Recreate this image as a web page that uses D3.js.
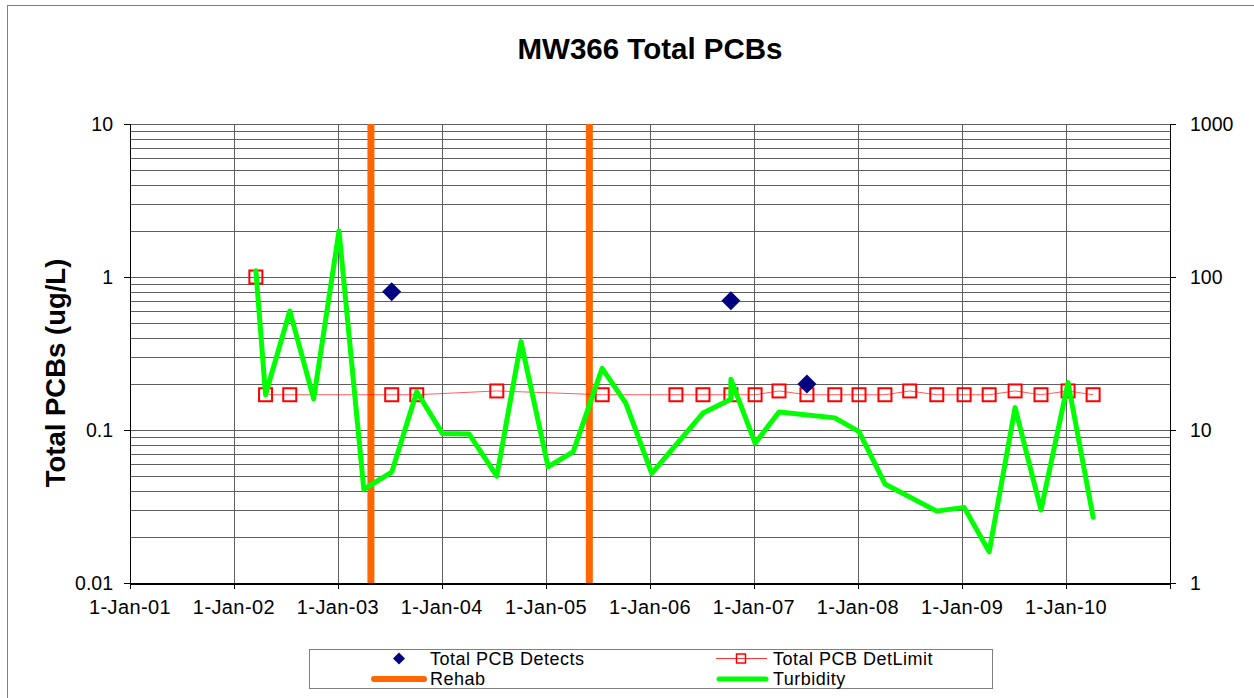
<!DOCTYPE html>
<html>
<head>
<meta charset="utf-8">
<script src="https://cdn.jsdelivr.net/npm/d3@7/dist/d3.min.js"></script>
<style>
  html, body { margin: 0; padding: 0; background: #fff; }
  svg { display: block; font-family: "Liberation Sans", Arial, sans-serif; }
</style>
</head>
<body>
<svg id="chart" width="1254" height="698"></svg>
<script>
// ---- data ----
const detectDates = ["2003-07-09", "2006-10-12", "2007-07-06"];
const detectValues = [0.8, 0.7, 0.2];

const detLimitDates = [
  "2002-03-19", "2002-04-22", "2002-07-16", "2003-07-09", "2003-10-05", "2004-07-12",
  "2005-07-17", "2006-04-02", "2006-07-06", "2006-10-12", "2007-01-05", "2007-03-30",
  "2007-07-06", "2007-10-12", "2008-01-05", "2008-04-05", "2008-07-01", "2008-10-04",
  "2009-01-08", "2009-04-06", "2009-07-06", "2009-10-05", "2010-01-08", "2010-04-06"
];
const detLimitValues = [
  1.0, 0.17, 0.17, 0.17, 0.17, 0.18,
  0.17, 0.17, 0.17, 0.17, 0.17, 0.18,
  0.17, 0.17, 0.17, 0.17, 0.18, 0.17,
  0.17, 0.17, 0.18, 0.17, 0.18, 0.17
];

const rehabDates = ["2003-04-27", "2005-06-02"];

const turbidityDates = [
  "2002-03-19", "2002-04-22", "2002-07-16", "2002-10-08", "2003-01-05", "2003-04-02",
  "2003-07-09", "2003-10-05", "2004-01-03", "2004-04-06", "2004-07-12", "2004-10-05",
  "2005-01-08", "2005-04-06", "2005-07-17", "2005-10-08", "2006-01-07", "2006-07-06",
  "2006-10-12", "2006-10-12", "2007-01-05", "2007-03-30", "2007-10-12", "2008-01-05",
  "2008-04-05", "2008-10-04", "2009-01-08", "2009-04-06", "2009-07-06", "2009-10-05",
  "2010-01-08", "2010-04-06"
];
const turbidityValues = [
  110, 17, 60, 16, 200, 4.1,
  5.3, 17.8, 9.5, 9.4, 5.0, 37.8,
  5.75, 7.2, 25.3, 15, 5.2, 12.9,
  15.9, 21.5, 8.2, 13.1, 12.0, 9.75,
  4.44, 2.95, 3.12, 1.6, 14, 3.0,
  20.4, 2.69
];

const xTickYears = [2001, 2002, 2003, 2004, 2005, 2006, 2007, 2008, 2009, 2010, 2011];
const xTickLabels = ["1-Jan-01", "1-Jan-02", "1-Jan-03", "1-Jan-04", "1-Jan-05",
                     "1-Jan-06", "1-Jan-07", "1-Jan-08", "1-Jan-09", "1-Jan-10", ""];
const leftTicks = [0.01, 0.1, 1, 10];
const leftTickLabels = ["0.01", "0.1", "1", "10"];
const rightTicks = [1, 10, 100, 1000];
const rightTickLabels = ["1", "10", "100", "1000"];

const chartTitle = "MW366 Total PCBs";
const yTitle = "Total PCBs (ug/L)";
const legendItems = ["Total PCB Detects", "Total PCB DetLimit", "Rehab", "Turbidity"];

// ---- layout ----
const plot = { left: 130, right: 1170, top: 124, bottom: 583 };
const parse = d3.timeParse("%Y-%m-%d");
const svg = d3.select("#chart");

const x = d3.scaleTime()
  .domain([new Date(2001, 0, 1), new Date(2011, 0, 1)])
  .range([plot.left, plot.right]);
const yL = d3.scaleLog().domain([0.01, 10]).range([plot.bottom, plot.top]);
const yR = d3.scaleLog().domain([1, 1000]).range([plot.bottom, plot.top]);

// outer chart frame
svg.append("rect")
  .attr("x", 7.5).attr("y", 5.5).attr("width", 1260).attr("height", 720)
  .attr("fill", "none").attr("stroke", "#808080").attr("stroke-width", 1);

// plot background
svg.append("rect")
  .attr("x", plot.left).attr("y", plot.top)
  .attr("width", plot.right - plot.left).attr("height", plot.bottom - plot.top)
  .attr("fill", "#fff");

// horizontal gridlines (major + minor log)
const gridVals = [];
[0.01, 0.1, 1].forEach(d => { for (let m = 1; m <= 9; m++) gridVals.push(d * m); });
gridVals.push(10);
const grid = svg.append("g").attr("shape-rendering", "crispEdges");
grid.selectAll("line.h").data(gridVals).join("line")
  .attr("class", "h")
  .attr("x1", plot.left).attr("x2", plot.right)
  .attr("y1", d => Math.round(yL(d)) + 0.5).attr("y2", d => Math.round(yL(d)) + 0.5)
  .attr("stroke", "#5e5e5e").attr("stroke-width", 1);

// vertical gridlines at each year
grid.selectAll("line.v").data(xTickYears.slice(1, -1)).join("line")
  .attr("class", "v")
  .attr("x1", d => Math.round(x(new Date(d, 0, 1))) + 0.5)
  .attr("x2", d => Math.round(x(new Date(d, 0, 1))) + 0.5)
  .attr("y1", plot.top).attr("y2", plot.bottom)
  .attr("stroke", "#5e5e5e").attr("stroke-width", 1);

// axes
const axisG = svg.append("g").attr("shape-rendering", "crispEdges");
axisG.append("line").attr("x1", plot.left + 0.5).attr("x2", plot.left + 0.5)
  .attr("y1", plot.top).attr("y2", plot.bottom).attr("stroke", "#000");
axisG.append("line").attr("x1", plot.right + 0.5).attr("x2", plot.right + 0.5)
  .attr("y1", plot.top).attr("y2", plot.bottom).attr("stroke", "#000");
axisG.append("line").attr("x1", plot.left).attr("x2", plot.right + 1)
  .attr("y1", plot.bottom + 0.5).attr("y2", plot.bottom + 0.5)
  .attr("stroke", "#000").attr("stroke-width", 2);

// left ticks
axisG.selectAll("line.lt").data(leftTicks).join("line")
  .attr("x1", plot.left - 6).attr("x2", plot.left)
  .attr("y1", d => Math.round(yL(d)) + 0.5).attr("y2", d => Math.round(yL(d)) + 0.5)
  .attr("stroke", "#000");
svg.selectAll("text.lt").data(leftTicks).join("text")
  .attr("x", 113).attr("y", d => yL(d)).attr("dy", "0.35em")
  .attr("text-anchor", "end").attr("font-size", 19.5)
  .text((d, i) => leftTickLabels[i]);

// right ticks
axisG.selectAll("line.rt").data(rightTicks).join("line")
  .attr("x1", plot.right).attr("x2", plot.right + 6)
  .attr("y1", d => Math.round(yR(d)) + 0.5).attr("y2", d => Math.round(yR(d)) + 0.5)
  .attr("stroke", "#000");
svg.selectAll("text.rt").data(rightTicks).join("text")
  .attr("x", 1190).attr("y", d => yR(d)).attr("dy", "0.35em")
  .attr("text-anchor", "start").attr("font-size", 19.5)
  .text((d, i) => rightTickLabels[i]);

// bottom ticks
axisG.selectAll("line.bt").data(xTickYears).join("line")
  .attr("x1", d => Math.round(x(new Date(d, 0, 1))) + 0.5)
  .attr("x2", d => Math.round(x(new Date(d, 0, 1))) + 0.5)
  .attr("y1", plot.bottom).attr("y2", plot.bottom + 6)
  .attr("stroke", "#000");
svg.selectAll("text.bt").data(xTickYears).join("text")
  .attr("x", d => x(new Date(d, 0, 1))).attr("y", 614)
  .attr("text-anchor", "middle").attr("font-size", 20).attr("letter-spacing", 0.4)
  .text((d, i) => xTickLabels[i]);

// rehab events: full-height vertical bars
svg.selectAll("line.rehab").data(rehabDates).join("line")
  .attr("x1", d => x(parse(d))).attr("x2", d => x(parse(d)))
  .attr("y1", yL(10)).attr("y2", yL(0.01))
  .attr("stroke", "#FF6600").attr("stroke-width", 7);

// detection limit series
const detLimit = detLimitDates.map((d, i) => ({ date: parse(d), v: detLimitValues[i] }));
svg.append("path").datum(detLimit)
  .attr("d", d3.line().x(d => x(d.date)).y(d => yL(d.v)))
  .attr("fill", "none").attr("stroke", "#FF0000").attr("stroke-width", 0.8).attr("stroke-opacity", 0.8);
svg.selectAll("rect.dl").data(detLimit).join("rect")
  .attr("x", d => x(d.date) - 6.5).attr("y", d => yL(d.v) - 6.5)
  .attr("width", 13).attr("height", 13)
  .attr("fill", "none").attr("stroke", "#FF0000").attr("stroke-width", 2);

// turbidity series (right axis)
const turb = turbidityDates.map((d, i) => ({ date: parse(d), v: turbidityValues[i] }));
svg.append("path").datum(turb)
  .attr("d", d3.line().x(d => x(d.date)).y(d => yR(d.v)))
  .attr("fill", "none").attr("stroke", "#00FF00").attr("stroke-width", 5)
  .attr("stroke-linejoin", "round").attr("stroke-linecap", "round");

// detects
const detects = detectDates.map((d, i) => ({ date: parse(d), v: detectValues[i] }));
const diamond = (cx, cy, r) => `M${cx},${cy - r}L${cx + r},${cy}L${cx},${cy + r}L${cx - r},${cy}Z`;
svg.selectAll("path.det").data(detects).join("path")
  .attr("d", d => diamond(x(d.date), yL(d.v), 9.5))
  .attr("fill", "#000080");

// titles
svg.append("text").attr("x", (plot.left + plot.right) / 2).attr("y", 59)
  .attr("text-anchor", "middle").attr("font-size", 29.5).attr("font-weight", "bold")
  .text(chartTitle);
svg.append("text")
  .attr("transform", "translate(65,373) rotate(-90)")
  .attr("text-anchor", "middle").attr("font-size", 27.5).attr("font-weight", "bold")
  .text(yTitle);

// legend
const lg = svg.append("g");
lg.append("rect").attr("x", 309.5).attr("y", 649.5).attr("width", 683).attr("height", 39)
  .attr("fill", "#fff").attr("stroke", "#808080").attr("stroke-width", 1);
const row1 = 658.5, row2 = 679;
const lgFont = 18;
// Detects swatch
lg.append("path").attr("d", diamond(399, row1, 6)).attr("fill", "#000080");
lg.append("text").attr("x", 430).attr("y", row1).attr("dy", "0.35em").attr("font-size", lgFont)
  .attr("letter-spacing", 0.5).text(legendItems[0]);
// DetLimit swatch
lg.append("line").attr("x1", 716).attr("x2", 767).attr("y1", row1).attr("y2", row1)
  .attr("stroke", "#FF0000").attr("stroke-width", 0.8);
lg.append("rect").attr("x", 741 - 4.5).attr("y", row1 - 4.5).attr("width", 9).attr("height", 9)
  .attr("fill", "none").attr("stroke", "#FF0000").attr("stroke-width", 1.5);
lg.append("text").attr("x", 773).attr("y", row1).attr("dy", "0.35em").attr("font-size", lgFont)
  .attr("letter-spacing", 0.5).text(legendItems[1]);
// Rehab swatch
lg.append("line").attr("x1", 374).attr("x2", 424).attr("y1", row2).attr("y2", row2)
  .attr("stroke", "#FF6600").attr("stroke-width", 6).attr("stroke-linecap", "round");
lg.append("text").attr("x", 430).attr("y", row2).attr("dy", "0.35em").attr("font-size", lgFont)
  .attr("letter-spacing", 0.5).text(legendItems[2]);
// Turbidity swatch
lg.append("line").attr("x1", 719).attr("x2", 766).attr("y1", row2).attr("y2", row2)
  .attr("stroke", "#00FF00").attr("stroke-width", 5).attr("stroke-linecap", "round");
lg.append("text").attr("x", 773).attr("y", row2).attr("dy", "0.35em").attr("font-size", lgFont)
  .attr("letter-spacing", 0.5).text(legendItems[3]);
</script>
</body>
</html>
